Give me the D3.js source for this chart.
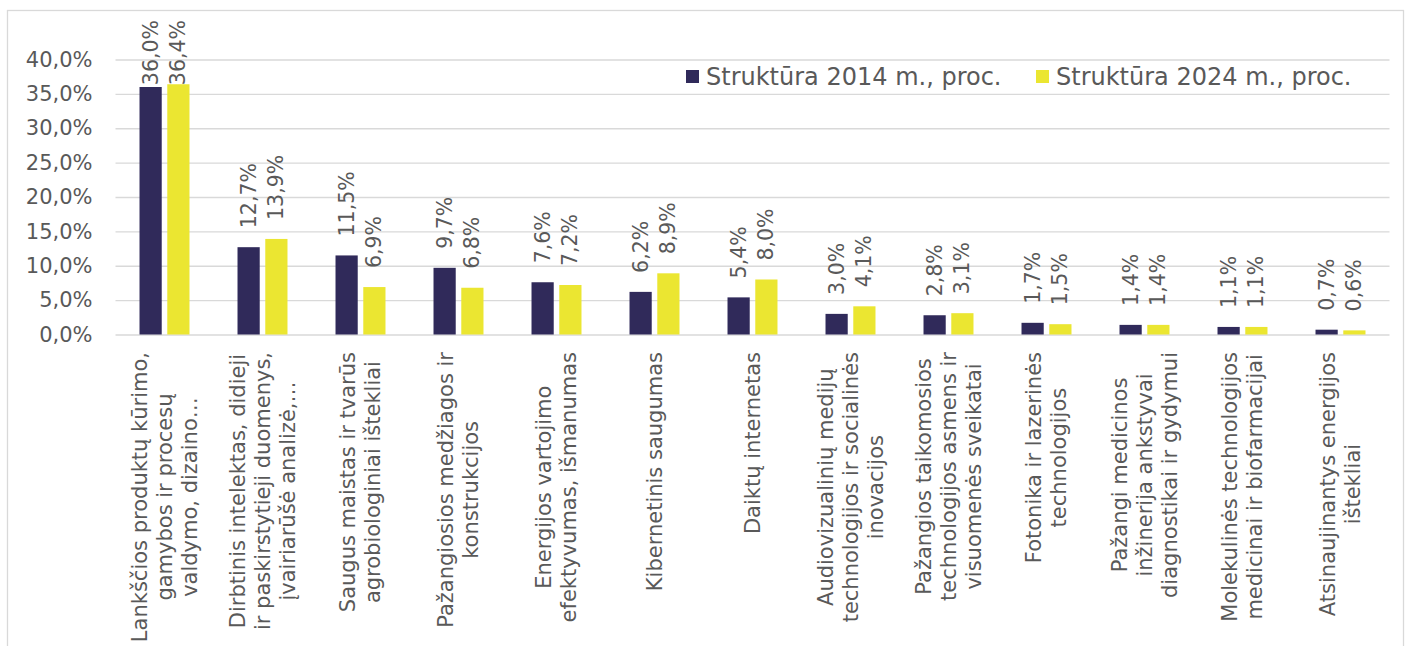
<!DOCTYPE html>
<html>
<head>
<meta charset="utf-8">
<script src="https://cdn.jsdelivr.net/npm/d3@7"></script>
<style>
  html, body { margin: 0; padding: 0; background: #fff; }
  svg { display: block; font-family: "DejaVu Sans", Verdana, sans-serif; }
</style>
</head>
<body>
<svg id="chart" width="1414" height="646"></svg>
<script>
// ---- data ----
const categories = [
  ["Lankščios produktų kūrimo,", "gamybos ir procesų", "valdymo, dizaino…"],
  ["Dirbtinis intelektas, didieji", "ir paskirstytieji duomenys,", "įvairiarūšė analizė,…"],
  ["Saugus maistas ir tvarūs", "agrobiologiniai ištekliai"],
  ["Pažangiosios medžiagos ir", "konstrukcijos"],
  ["Energijos vartojimo", "efektyvumas, išmanumas"],
  ["Kibernetinis saugumas"],
  ["Daiktų internetas"],
  ["Audiovizualinių medijų", "technologijos ir socialinės", "inovacijos"],
  ["Pažangios taikomosios", "technologijos asmens ir", "visuomenės sveikatai"],
  ["Fotonika ir lazerinės", "technologijos"],
  ["Pažangi medicinos", "inžinerija ankstyvai", "diagnostikai ir gydymui"],
  ["Molekulinės technologijos", "medicinai ir biofarmacijai"],
  ["Atsinaujinantys energijos", "ištekliai"]
];
const values2014 = [36.0, 12.7, 11.5, 9.7, 7.6, 6.2, 5.4, 3.0, 2.8, 1.7, 1.4, 1.1, 0.7];
const values2024 = [36.4, 13.9, 6.9, 6.8, 7.2, 8.9, 8.0, 4.1, 3.1, 1.5, 1.4, 1.1, 0.6];
const seriesNames = ["Struktūra 2014 m., proc.", "Struktūra 2024 m., proc."];
const seriesColors = ["#302a5a", "#ebe631"];
const yTicks = [0, 5, 10, 15, 20, 25, 30, 35, 40];

const series = [values2014, values2024];
const fmt = v => v.toFixed(1).replace(".", ",") + "%";

const svg = d3.select("#chart");
const textColor = "#595959";
const gridColor = "#d9d9d9";

// chart border
svg.append("rect")
  .attr("x", 7.5).attr("y", 10.5).attr("width", 1396).attr("height", 700)
  .attr("fill", "none").attr("stroke", gridColor).attr("stroke-width", 1.3);

const plotLeft = 115.5, plotRight = 1389.5;
const y = d3.scaleLinear().domain([0, 40]).range([334.5, 59.5]);
const idx = d3.range(categories.length);
const x0 = d3.scaleBand().domain(idx).range([plotLeft, plotRight])
  .paddingInner(0.49).paddingOuter(0.245);
const x1 = d3.scaleBand().domain([0, 1]).range([0, x0.bandwidth()]).paddingInner(0.2);

// gridlines + y axis
const yAxis = d3.axisLeft(y).tickValues(yTicks).tickSize(-(plotRight - plotLeft))
  .tickPadding(23).tickFormat(fmt);
const ga = svg.append("g").attr("transform", `translate(${plotLeft},0)`).call(yAxis);
ga.select(".domain").remove();
ga.selectAll(".tick line").attr("stroke", gridColor).attr("stroke-width", 1.3);
ga.selectAll(".tick text").attr("fill", textColor)
  .style("font-size", "21px").style("font-family", '"DejaVu Sans", Verdana, sans-serif');

// bars
const groups = svg.append("g").selectAll("g").data(idx).join("g")
  .attr("transform", i => `translate(${x0(i)},0)`);

groups.selectAll("rect").data(i => series.map((s, k) => ({k, v: s[i]}))).join("rect")
  .attr("x", d => x1(d.k)).attr("width", x1.bandwidth())
  .attr("y", d => y(d.v)).attr("height", d => y(0) - y(d.v))
  .attr("fill", d => seriesColors[d.k]);

// value labels (rotated)
groups.selectAll("text.val").data(i => series.map((s, k) => ({k, v: s[i]}))).join("text")
  .attr("class", "val")
  .attr("text-anchor", "start")
  .attr("dominant-baseline", "central")
  .attr("fill", textColor)
  .style("font-size", "20.5px")
  .text(d => fmt(d.v))
  .each(function(d) {
    const len = this.getComputedTextLength();
    const cx = x1(d.k) + x1.bandwidth() / 2;
    const yy = Math.max(y(d.v) - 19, 20 + len);
    d3.select(this).attr("transform", `translate(${cx},${yy}) rotate(-90)`);
  });

// category labels (rotated, multiline, centered lines, top aligned)
const catG = svg.append("g");
idx.forEach(i => {
  const lines = categories[i];
  const cx = x0(i) + x0.bandwidth() / 2;
  const g = catG.append("g");
  const texts = lines.map((ln, j) => g.append("text")
    .attr("text-anchor", "middle")
    .attr("dominant-baseline", "central")
    .attr("fill", textColor)
    .style("font-size", "21px")
    .text(ln));
  const maxLen = d3.max(texts, t => t.node().getComputedTextLength());
  const cy = 352 + maxLen / 2;
  texts.forEach((t, j) => {
    const lx = cx + (j - (lines.length - 1) / 2) * 25;
    t.attr("transform", `translate(${lx},${cy}) rotate(-90)`);
  });
});

// legend
const legendX = [686, 1036];
seriesNames.forEach((name, k) => {
  svg.append("rect").attr("x", legendX[k]).attr("y", 70).attr("width", 13).attr("height", 13)
    .attr("fill", seriesColors[k]);
  svg.append("text").attr("x", legendX[k] + 20).attr("y", 77)
    .attr("dominant-baseline", "central").attr("fill", textColor)
    .style("font-size", "24px").text(name);
});
</script>
</body>
</html>
